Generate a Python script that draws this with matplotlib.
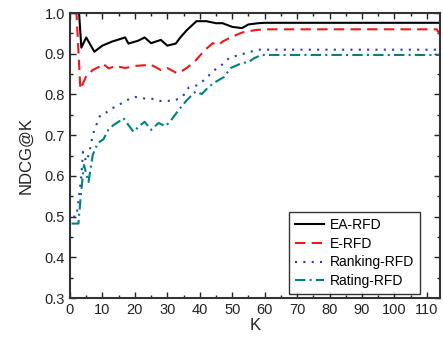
import numpy as np
import matplotlib.pyplot as plt
from matplotlib.ticker import MultipleLocator

plt.rcParams['font.family'] = ['Liberation Sans', 'DejaVu Sans']

# ---- data ----
k_ea = [1, 2, 2.8, 3.5, 5, 7.5, 10, 13, 17, 18, 21, 23, 25, 28, 30, 32.6, 34, 36,
        39, 42, 45, 47, 50, 53, 55, 58, 60, 114]
ndcg_ea = [1.0, 1.0, 1.0, 0.915, 0.94, 0.905, 0.92, 0.93, 0.94, 0.925, 0.932, 0.94,
           0.926, 0.934, 0.92, 0.925, 0.94, 0.958, 0.98, 0.98, 0.975, 0.975, 0.966,
           0.963, 0.972, 0.975, 0.976, 0.976]

k_e = [1, 2, 3.2, 5, 7, 9, 10, 12, 14, 17, 20, 25, 28, 30, 33, 35, 38, 40, 42, 44,
       46, 47, 50, 53, 57, 60, 113, 114]
ndcg_e = [1.0, 1.0, 0.813, 0.845, 0.86, 0.868, 0.876, 0.864, 0.87, 0.865, 0.87, 0.873,
          0.86, 0.865, 0.852, 0.86, 0.877, 0.895, 0.912, 0.926, 0.922, 0.93, 0.942,
          0.952, 0.958, 0.96, 0.96, 0.948]

k_rank = [1, 2, 2.8, 3.5, 4, 5, 6, 6.5, 7.2, 8.2, 9.4, 11, 13, 15, 17.5, 20, 23, 25.8,
          27.9, 30, 32.5, 34.8, 36.6, 39.4, 42, 44, 46.7, 49, 52, 55, 57.7, 114]
ndcg_rank = [0.5, 0.5, 0.55, 0.6, 0.659, 0.635, 0.657, 0.68, 0.705, 0.727, 0.75,
             0.755, 0.766, 0.774, 0.786, 0.794, 0.79, 0.789, 0.784, 0.784, 0.786,
             0.796, 0.817, 0.823, 0.84, 0.857, 0.872, 0.889, 0.897, 0.903, 0.91, 0.91]

k_rate = [0.5, 2.6, 3.3, 4.3, 5.7, 7, 8.5, 10.3, 11.8, 13.4, 15, 16.5, 18, 19.6, 21,
          23, 25, 27.3, 29.4, 31, 33.5, 36, 38.7, 40.6, 42.8, 44.9, 47.5, 49.5, 53,
          55.2, 56.7, 59, 114]
ndcg_rate = [0.483, 0.483, 0.549, 0.627, 0.585, 0.651, 0.68, 0.69, 0.713, 0.725,
             0.733, 0.742, 0.725, 0.708, 0.72, 0.733, 0.713, 0.73, 0.722, 0.735,
             0.762, 0.786, 0.807, 0.801, 0.819, 0.831, 0.843, 0.865, 0.877, 0.88,
             0.889, 0.897, 0.897]

fig = plt.figure(figsize=(4.43, 3.43), dpi=100)
ax = fig.add_axes([0.158, 0.131, 0.835, 0.831])

ax.plot(k_ea, ndcg_ea, color='black', lw=1.5, label='EA-RFD')
ax.plot(k_e, ndcg_e, color='#f01818', lw=1.5, dashes=(5, 3), label='E-RFD')
ax.plot(k_rank, ndcg_rank, color='#2040b0', lw=1.5, dashes=(1, 3), label='Ranking-RFD')
ax.plot(k_rate, ndcg_rate, color='#008080', lw=1.5, dashes=(5, 2, 1, 2), label='Rating-RFD')

ax.set_xlim(0, 114)
ax.set_ylim(0.3, 1.0)
ax.xaxis.set_major_locator(MultipleLocator(10))
ax.xaxis.set_minor_locator(MultipleLocator(5))
ax.yaxis.set_major_locator(MultipleLocator(0.1))
ax.yaxis.set_minor_locator(MultipleLocator(0.05))
ax.tick_params(which='both', direction='in', top=True, right=True, labelsize=10.5,
               width=1, colors='#222222')
ax.tick_params(which='major', length=4)
ax.tick_params(which='minor', length=2)
for s in ax.spines.values():
    s.set_linewidth(1.5)
    s.set_color('#333333')

ax.set_xlabel('K', fontsize=12, labelpad=1, color='#222222')
ax.set_ylabel('NDCG@K', fontsize=12, labelpad=8, color='#222222')

leg = ax.legend(loc='lower right', bbox_to_anchor=(0.945, 0.015), fontsize=10,
                fancybox=False, edgecolor='black', handlelength=2.1, borderpad=0.4,
                labelspacing=0.35, handletextpad=0.4, borderaxespad=0.0)
leg.get_frame().set_linewidth(1)

fig.savefig('out.png', dpi=100)
